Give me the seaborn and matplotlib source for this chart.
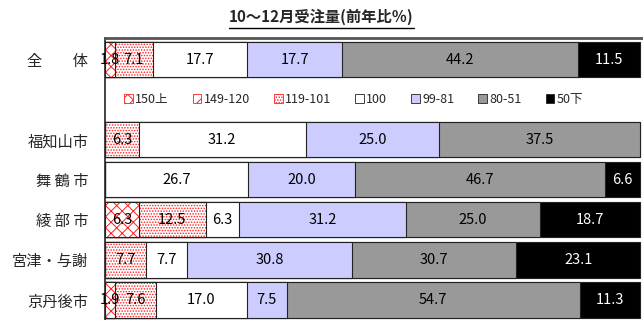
import pandas as pd
import seaborn as sns
import matplotlib.pyplot as plt
from matplotlib.patches import Patch
from matplotlib.lines import Line2D

# データ
regions = ['全　　体', '福知山市', '舞 鶴 市', '綾 部 市', '宮津・与謝', '京丹後市']
ypos = [0, 2, 3, 4, 5, 6]   # 1 は凡例の行
cats = ['150上', '149-120', '119-101', '100', '99-81', '80-51', '50下']
v150 = [1.8, 0, 0, 6.3, 0, 1.9]
v149 = [0, 0, 0, 0, 0, 0]
v119 = [7.1, 6.3, 0, 12.5, 7.7, 7.6]
v100 = [17.7, 31.2, 26.7, 6.3, 7.7, 17.0]
v99 = [17.7, 25.0, 20.0, 31.2, 30.8, 7.5]
v80 = [44.2, 37.5, 46.7, 25.0, 30.7, 54.7]
v50 = [11.5, 0, 6.6, 18.7, 23.1, 11.3]
title = '10～12月受注量(前年比％)'

values = [v150, v149, v119, v100, v99, v80, v50]

# 色・模様
red = '#ff2020'
faces = ['white', 'white', 'white', 'white', '#ccccff', '#999999', 'black']
hatches = ['xxx', '///', '......', None, None, None, None]

sns.set_theme(style='white')
plt.rcParams['font.family'] = ['Noto Sans CJK JP', 'DejaVu Sans']
plt.rcParams['hatch.linewidth'] = 0.7

df = pd.DataFrame(dict(zip(cats, values)))
df['pos'] = ypos
cum = df[cats].cumsum(axis=1)

fig = plt.figure(figsize=(6.43, 3.2), dpi=100)
ax = fig.add_axes([105 / 643, 0, 538 / 643, 1 - 38 / 320])

# 累積値を長い順に重ねて積み上げ棒にする
for i in reversed(range(len(cats))):
    n0 = len(ax.patches)
    sns.barplot(x=cum[cats[i]], y=df['pos'], orient='h', native_scale=True,
                color=faces[i], saturation=1, width=0.88,
                edgecolor='#222222', linewidth=0.8, ax=ax)
    if hatches[i]:
        for p in ax.patches[n0:]:
            p.set_hatch(hatches[i])
            p.set_edgecolor(red)
            p.set_linewidth(0)
        sns.barplot(x=cum[cats[i]], y=df['pos'], orient='h', native_scale=True,
                    color='#222222', fill=False, width=0.88, linewidth=0.8, ax=ax)

# 数値ラベル
for i, c in enumerate(cats):
    for r in range(len(df)):
        v = df[c].iloc[r]
        if v <= 0:
            continue
        x = cum[c].iloc[r] - v / 2
        ax.text(x, df['pos'].iloc[r], f'{v:.1f}', ha='center', va='center',
                fontsize=10.5, color='white' if c == '50下' else 'black',
                clip_on=False, zorder=5)

ax.set_xlim(0, 100 * 538 / 535)
ax.set_ylim(6.5, -0.54)
ax.set_xticks([])
ax.set_xlabel('')
ax.set_ylabel('')
ax.set_yticks(ypos, regions, fontsize=11)
ax.tick_params(axis='y', length=0, pad=12)
for s in ['right', 'bottom']:
    ax.spines[s].set_visible(False)
ax.spines['left'].set_color('#222222')
ax.spines['left'].set_linewidth(1.2)
ax.spines['top'].set_color('#555555')
ax.spines['top'].set_linewidth(2)

# 凡例
handles = []
for i, c in enumerate(cats):
    if hatches[i]:
        handles.append(Patch(facecolor=faces[i], edgecolor=red, hatch=hatches[i], linewidth=0.6))
    else:
        handles.append(Patch(facecolor=faces[i], edgecolor='#222222', linewidth=0.6))
ax.legend(handles, cats, loc='center', bbox_to_anchor=(46.5, 1), bbox_transform=ax.transData,
          ncol=7, frameon=False, fontsize=9, handlelength=0.7, handleheight=0.7,
          handletextpad=0.2, columnspacing=1.9)

# タイトル（下線付き）
t = fig.text(0.5, 1 - 17 / 320, title, ha='center', va='center', fontsize=11, weight='bold')
fig.canvas.draw()
bb = t.get_window_extent().transformed(fig.transFigure.inverted())
fig.add_artist(Line2D([bb.x0, bb.x1], [bb.y0 - 0.008, bb.y0 - 0.008], color='black', lw=1))

fig.savefig('out.png', dpi=100)
